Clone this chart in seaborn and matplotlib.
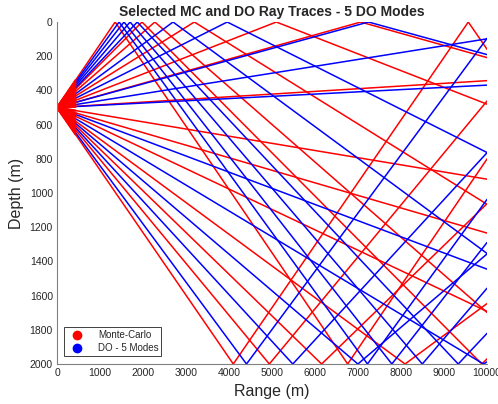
import numpy as np
import pandas as pd
import matplotlib
matplotlib.use("Agg")
import matplotlib.pyplot as plt
from matplotlib.lines import Line2D
import seaborn as sns

# environment
src_depth = 500.0
water_depth = 2000.0
max_range = 10000.0
fan_range = 430.0

# launch angles (deg), positive = toward the surface
mc_angles = [20.3, 14.2, 12.4, 8.9, 5.6, 4.05, 0.9, -2.4, -4.2, -6.8, -10.5, -13.7, -16.9, -20.1]
do_angles = [19.1, 17.8, 16.4, 15.0, 10.5, 7.2, 3.95, 2.3, 0.75, -5.4, -8.6, -12.1, -15.3, -18.8]


def fold(z):
    z = np.mod(z, 2 * water_depth)
    return np.where(z > water_depth, 2 * water_depth - z, z)


def trace(theta, r_max):
    # straight rays in isovelocity water, mirrored at surface and bottom
    t = np.tan(np.radians(theta))
    xs = [0.0]
    if t != 0:
        for k in range(-10, 11):
            x = (src_depth - k * water_depth) / t
            if 0 < x < r_max:
                xs.append(x)
    xs.append(r_max)
    xs = np.sort(np.array(xs))
    return xs, fold(src_depth - xs * t)


rows = []
for model, angles in (("Monte-Carlo", mc_angles), ("DO - 5 Modes", do_angles)):
    for i, a in enumerate(angles):
        xs, zs = trace(a, max_range)
        for x, z in zip(xs, zs):
            rows.append((model, f"{model}-{i}", x, z))
df = pd.DataFrame(rows, columns=["model", "ray", "range", "depth"])

fan_rows = []
for i, a in enumerate(mc_angles + do_angles):
    xs, zs = trace(a, fan_range)
    for x, z in zip(xs, zs):
        fan_rows.append((f"fan-{i}", x, z))
fan = pd.DataFrame(fan_rows, columns=["ray", "range", "depth"])

sns.set_style("white")
plt.rcParams["font.family"] = ["Liberation Sans", "DejaVu Sans"]

fig = plt.figure(figsize=(4.98, 4.04), dpi=100)
ax = fig.add_axes([0.1145, 0.099, 0.8635, 0.8465])

palette = {"Monte-Carlo": "#ff0000", "DO - 5 Modes": "#0000ff"}
sns.lineplot(data=df[df.model == "Monte-Carlo"], x="range", y="depth", units="ray",
             estimator=None, sort=False, color=palette["Monte-Carlo"], lw=1.1, ax=ax)
sns.lineplot(data=df[df.model == "DO - 5 Modes"], x="range", y="depth", units="ray",
             estimator=None, sort=False, color=palette["DO - 5 Modes"], lw=1.1, ax=ax)
sns.lineplot(data=fan, x="range", y="depth", units="ray", estimator=None, sort=False,
             color=palette["Monte-Carlo"], lw=1.6, ax=ax)

ax.set_xlim(0, max_range)
ax.set_ylim(water_depth, 0)
ax.set_xticks(np.arange(0, 10001, 1000))
ax.set_yticks(np.arange(0, 2001, 200))
ax.set_xlabel("Range (m)", fontsize=11.5, color="#262626")
ax.set_ylabel("Depth (m)", fontsize=11.5, color="#262626")
ax.set_title("Selected MC and DO Ray Traces - 5 DO Modes", fontsize=10, fontweight="bold", pad=4)

for side in ("top", "right"):
    ax.spines[side].set_visible(False)
for side in ("left", "bottom"):
    ax.spines[side].set_color("#808080")
    ax.spines[side].set_linewidth(0.8)
ax.tick_params(direction="in", length=3, width=0.7, color="#808080",
               labelsize=7.5, labelcolor="#262626", pad=3)

handles = [Line2D([], [], ls="none", marker="o", ms=6, color=c) for c in palette.values()]
leg = ax.legend(handles, list(palette.keys()), loc="lower left", bbox_to_anchor=(0.016, 0.023),
                borderaxespad=0, fontsize=7, frameon=True, fancybox=False, framealpha=1,
                handletextpad=1.2, borderpad=0.3, labelspacing=0.3)
leg.get_frame().set_edgecolor("#404040")
leg.get_frame().set_linewidth(0.7)

fig.savefig("out.png", dpi=100)
